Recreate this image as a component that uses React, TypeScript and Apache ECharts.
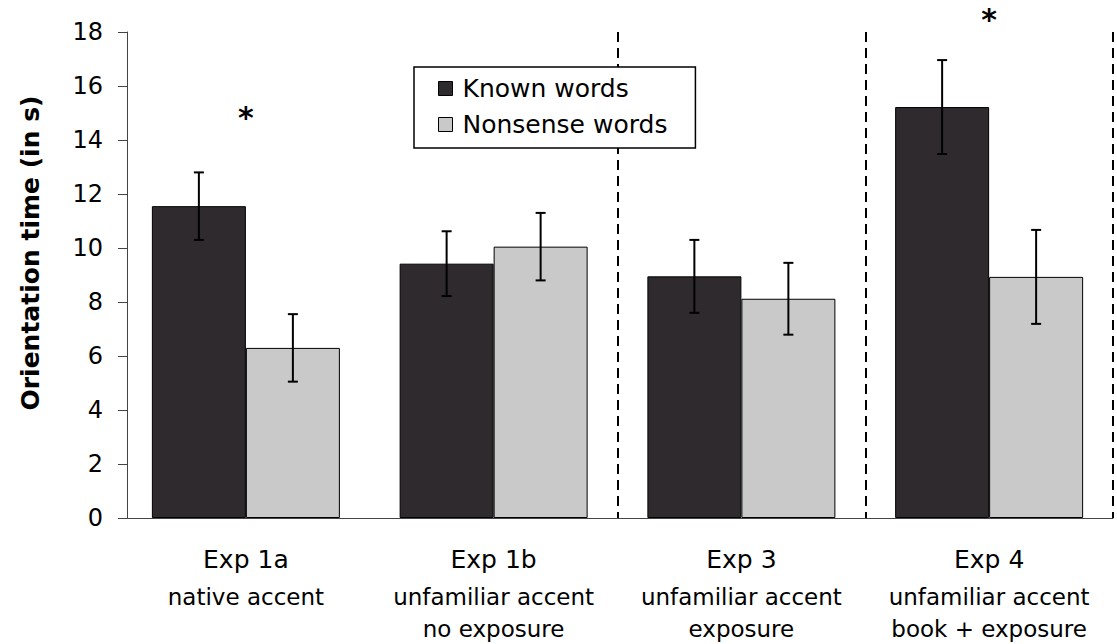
import React, { useEffect, useRef } from "react";
import * as echarts from "echarts";

const categories = ["Exp 1a", "Exp 1b", "Exp 3", "Exp 4"];
const subtitles = [
  ["native accent"],
  ["unfamiliar accent", "no exposure"],
  ["unfamiliar accent", "exposure"],
  ["unfamiliar accent", "book + exposure"],
];
const knownWords = [11.55, 9.42, 8.95, 15.22];
const knownErr = [1.25, 1.2, 1.35, 1.74];
const nonsenseWords = [6.3, 10.05, 8.12, 8.93];
const nonsenseErr = [1.25, 1.25, 1.33, 1.74];
const starLevels: (number | null)[] = [14.82, null, null, 18.45];
const yMin = 0;
const yMax = 18;
const yInterval = 2;

const FONT = "DejaVu Sans";
const BAR_W = 94;

function errorSeries(name: string, values: number[], errs: number[], side: number) {
  return {
    type: "custom",
    name: name + " err",
    z: 5,
    silent: true,
    data: values.map((v, i) => [i, v, errs[i]]),
    renderItem: (params: any, api: any) => {
      const x = api.value(0);
      const v = api.value(1);
      const e = api.value(2);
      const top = api.coord([x, v + e]);
      const bot = api.coord([x, v - e]);
      const cx = top[0] + (side * BAR_W) / 2;
      const cap = 5;
      const st = { stroke: "#000", lineWidth: 2 };
      return {
        type: "group",
        children: [
          { type: "line", shape: { x1: cx, y1: top[1], x2: cx, y2: bot[1] }, style: st },
          { type: "line", shape: { x1: cx - cap, y1: top[1], x2: cx + cap, y2: top[1] }, style: st },
          { type: "line", shape: { x1: cx - cap, y1: bot[1], x2: cx + cap, y2: bot[1] }, style: st },
        ],
      };
    },
  };
}

export default function App() {
  const ref = useRef<HTMLDivElement>(null);
  useEffect(() => {
    if (!ref.current) return;
    const chart = echarts.init(ref.current, null, { renderer: "svg" });
    const option: any = {
      animation: false,
      textStyle: { fontFamily: FONT },
      legend: {
        data: ["Known words", "Nonsense words"],
        orient: "vertical",
        left: 414,
        top: 67,
        padding: [9, 28, 11, 24],
        itemGap: 11,
        itemWidth: 14,
        itemHeight: 14,
        itemStyle: { borderColor: "#000", borderWidth: 1 },
        icon: "rect",
        borderColor: "#000",
        borderWidth: 1.5,
        backgroundColor: "#fff",
        selectedMode: false,
        textStyle: { fontSize: 25, color: "#000", fontFamily: FONT, padding: [0, 0, 0, 5] },
        z: 10,
      },
      grid: { left: 122, right: 4, top: 32, bottom: 126, containLabel: false },
      xAxis: {
        type: "category",
        data: categories,
        axisLine: { lineStyle: { color: "#444", width: 1 } },
        axisTick: { show: false },
        splitLine: {
          show: true,
          interval: (index: number) => index === 2 || index === 3,
          lineStyle: { color: "#000", width: 2, type: [10, 6] },
        },
        axisLabel: {
          interval: 0,
          margin: 19,
          formatter: (value: string, idx: number) =>
            ["{a|" + value + "}"].concat(subtitles[idx].map((s) => "{b|" + s + "}")).join("\n"),
          rich: {
            a: { fontSize: 25, lineHeight: 44, color: "#000", fontFamily: FONT },
            b: { fontSize: 23, lineHeight: 32, color: "#000", fontFamily: FONT },
          },
        },
      },
      yAxis: {
        type: "value",
        min: yMin,
        max: yMax,
        interval: yInterval,
        offset: -5,
        name: "Orientation time (in s)",
        nameLocation: "middle",
        nameGap: 84,
        nameRotate: 90,
        nameTextStyle: {
          fontSize: 25,
          fontWeight: "bold",
          color: "#000",
          fontFamily: FONT,
          padding: [0, 0, 0, 44],
        },
        axisLine: { show: true, lineStyle: { color: "#444", width: 1 } },
        axisTick: { show: true, length: 9, lineStyle: { color: "#444" } },
        splitLine: { show: false },
        axisLabel: { fontSize: 24, color: "#000", margin: 24, fontFamily: FONT },
      },
      series: [
        {
          type: "bar",
          name: "Known words",
          data: knownWords,
          barWidth: BAR_W,
          barGap: "0%",
          itemStyle: { color: "#2f2a2e", borderColor: "#000", borderWidth: 1 },
        },
        {
          type: "bar",
          name: "Nonsense words",
          data: nonsenseWords,
          barWidth: BAR_W,
          barGap: "0%",
          itemStyle: { color: "#c9c9c9", borderColor: "#000", borderWidth: 1 },
        },
        errorSeries("Known words", knownWords, knownErr, -1),
        errorSeries("Nonsense words", nonsenseWords, nonsenseErr, 1),
        {
          type: "custom",
          name: "stars",
          silent: true,
          clip: false,
          data: starLevels.map((v, i) => (v === null ? null : [i, v])).filter((d) => d !== null),
          renderItem: (params: any, api: any) => {
            const p = api.coord([api.value(0), api.value(1)]);
            return {
              type: "text",
              x: p[0],
              y: p[1],
              style: {
                text: "*",
                fontSize: 30,
                fontWeight: "bold",
                fontFamily: FONT,
                fill: "#000",
                align: "center",
                verticalAlign: "middle",
              },
            };
          },
        },
      ],
    };
    chart.setOption(option);
    return () => chart.dispose();
  }, []);
  return (
    <div
      ref={ref}
      style={{ position: "fixed", left: 0, top: 0, width: 1117, height: 644, background: "#fff" }}
    />
  );
}
